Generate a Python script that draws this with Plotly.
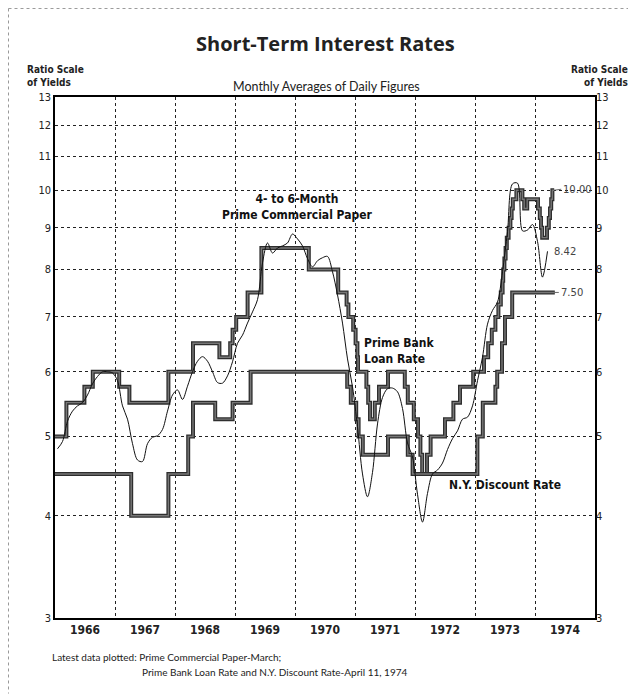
import math
import plotly.graph_objects as go

# ---------------- data ----------------
years = [1966, 1967, 1968, 1969, 1970, 1971, 1972, 1973, 1974]
y_ticks = [3, 4, 5, 6, 7, 8, 9, 10, 11, 12, 13]

# 4- to 6-month prime commercial paper, monthly averages Jan 1966 .. Mar 1974
cp_1966 = [4.83, 4.93, 5.22, 5.37, 5.45, 5.50, 5.62, 5.80, 5.92, 6.00, 6.00, 5.98]
cp_1967 = [5.85, 5.45, 5.25, 4.90, 4.68, 4.66, 4.90, 4.99, 5.01, 5.10, 5.37, 5.62]
cp_1968 = [5.70, 5.55, 5.76, 6.00, 6.18, 6.26, 6.18, 6.00, 5.82, 5.81, 5.93, 6.17]
cp_1969 = [6.50, 6.65, 6.88, 7.10, 7.35, 8.15, 8.62, 8.38, 8.50, 8.55, 8.62, 8.84]
cp_1970 = [8.72, 8.55, 8.25, 8.06, 8.20, 8.27, 8.30, 7.95, 7.45, 6.88, 6.22, 5.75]
cp_1971 = [5.14, 4.50, 4.22, 4.52, 5.18, 5.58, 5.72, 5.73, 5.67, 5.41, 4.91, 4.72]
cp_1972 = [4.25, 3.93, 4.26, 4.50, 4.55, 4.64, 4.82, 4.97, 5.08, 5.25, 5.28, 5.45]
cp_1973 = [5.85, 6.25, 6.86, 7.13, 7.30, 7.95, 8.90, 10.18, 10.20, 8.92, 8.94, 9.08]
cp_1974 = [8.66, 7.83, 8.42]

# Prime bank loan rate: date of change (decimal year) and new rate
prime_dates = [1966.00, 1966.19, 1966.49, 1966.63, 1967.07, 1967.24, 1967.89, 1968.30,
               1968.74, 1968.92, 1968.96, 1969.02, 1969.21, 1969.44, 1970.23, 1970.72,
               1970.86, 1970.89, 1970.97, 1971.01, 1971.04, 1971.05, 1971.19, 1971.22,
               1971.25, 1971.33, 1971.40, 1971.55, 1971.83, 1971.88, 1971.98, 1972.05,
               1972.09, 1972.12, 1972.20, 1972.26, 1972.50, 1972.64, 1972.75, 1972.97,
               1973.15, 1973.22, 1973.28, 1973.34, 1973.39, 1973.43, 1973.46, 1973.47,
               1973.49, 1973.51, 1973.53, 1973.56, 1973.59, 1973.61, 1973.63, 1973.69,
               1973.79, 1973.82, 1973.87, 1974.05, 1974.08, 1974.10, 1974.12, 1974.20,
               1974.23, 1974.25, 1974.27, 1974.29]
prime_rates = [5.0, 5.5, 5.75, 6.0, 5.75, 5.5, 6.0, 6.5,
               6.25, 6.5, 6.75, 7.0, 7.5, 8.5, 8.0, 7.5,
               7.25, 7.0, 6.75, 6.5, 6.25, 6.0, 5.75, 5.5,
               5.25, 5.5, 5.75, 6.0, 5.75, 5.5, 5.25, 5.0,
               4.75, 4.5, 4.75, 5.0, 5.25, 5.5, 5.75, 6.0,
               6.25, 6.5, 6.75, 7.0, 7.25, 7.5, 7.75, 8.0,
               8.25, 8.5, 8.75, 9.0, 9.25, 9.5, 9.75, 10.0,
               9.75, 9.5, 9.75, 9.5, 9.25, 9.0, 8.75, 9.0,
               9.25, 9.5, 9.75, 10.0]
prime_end = 1974.32

# N.Y. (FRB of New York) discount rate
disc_dates = [1966.00, 1967.27, 1967.89, 1968.22, 1968.30, 1968.67, 1968.96, 1969.26,
              1970.87, 1970.93, 1971.02, 1971.06, 1971.13, 1971.55, 1971.88, 1971.96,
              1973.04, 1973.13, 1973.34, 1973.37, 1973.45, 1973.50, 1973.62]
disc_rates = [4.5, 4.0, 4.5, 5.0, 5.5, 5.25, 5.5, 6.0,
              5.75, 5.5, 5.25, 5.0, 4.75, 5.0, 4.75, 4.5,
              5.0, 5.5, 5.75, 6.0, 6.5, 7.0, 7.5]
disc_end = 1974.33

# ---------------- build ----------------
cp_values = cp_1966 + cp_1967 + cp_1968 + cp_1969 + cp_1970 + cp_1971 + cp_1972 + cp_1973 + cp_1974
cp_x = [years[0] + (i + 0.5) / 12 for i in range(len(cp_values))]

def step_xy(dates, rates, end):
    return list(dates) + [end], list(rates) + [rates[-1]]

px, py = step_xy(prime_dates, prime_rates, prime_end)
dx, dy = step_xy(disc_dates, disc_rates, disc_end)

fig = go.Figure()

for xs, ys in [(px, py), (dx, dy)]:
    fig.add_trace(go.Scatter(x=xs, y=ys, mode="lines", line_shape="hv",
                             line=dict(color="#2e2e2e", width=4),
                             hoverinfo="skip", showlegend=False))
    fig.add_trace(go.Scatter(x=xs, y=ys, mode="lines", line_shape="hv",
                             line=dict(color="#777777", width=1.4),
                             hoverinfo="skip", showlegend=False))

fig.add_trace(go.Scatter(x=cp_x, y=cp_values, mode="lines", line_shape="spline",
                         line=dict(color="#111", width=1, smoothing=0.9),
                         hoverinfo="skip", showlegend=False))
# invisible trace to carry the right-hand axis
fig.add_trace(go.Scatter(x=cp_x, y=cp_values, yaxis="y2", mode="lines",
                         line=dict(width=0), opacity=0, hoverinfo="skip", showlegend=False))

lo, hi = math.log10(y_ticks[0]), math.log10(y_ticks[-1])
tick_font = dict(family="DejaVu Sans Condensed, DejaVu Sans, sans-serif", size=11, color="#222")

# the page body adds an 8px margin, so the figure is 628x692
fig.update_layout(
    width=628, height=692,
    margin=dict(l=47, r=41, t=89, b=82),
    paper_bgcolor="white", plot_bgcolor="white",
    xaxis=dict(range=[years[0], years[-1] + 1],
               tickvals=[y + 0.5 for y in years], ticktext=[str(y) for y in years],
               ticks="", showgrid=False, zeroline=False,
               showline=True, mirror=True, linecolor="black", linewidth=1.5,
               tickfont=dict(family="DejaVu Sans Condensed, DejaVu Sans, sans-serif",
                             size=12, color="#222", weight="bold"),
               minor=dict(tickmode="array", tickvals=years[1:], showgrid=True,
                          gridcolor="#222", griddash="dot", gridwidth=1, ticks="")),
    yaxis=dict(type="log", range=[lo, hi], tickvals=y_ticks,
               ticktext=[str(v) for v in y_ticks], ticks="",
               showgrid=True, gridcolor="#222", griddash="dot", gridwidth=1,
               zeroline=False, showline=True, mirror=True, linecolor="black", linewidth=1.5,
               tickfont=tick_font),
    yaxis2=dict(type="log", range=[lo, hi], overlaying="y", side="right",
                tickvals=y_ticks, ticktext=[str(v) for v in y_ticks], ticks="",
                showgrid=False, zeroline=False, showline=False, tickfont=tick_font),
)

label_font = dict(family="DejaVu Sans Condensed, DejaVu Sans, sans-serif", size=12, color="#111")
num_font = dict(family="DejaVu Sans, sans-serif", size=10, color="#444")
small_font = dict(family="Lato, sans-serif", size=10, color="#222")
ratio_font = dict(family="DejaVu Sans Condensed, DejaVu Sans, sans-serif", size=10, color="#222")

ann = [
    dict(x=0.5, y=1.1036, xref="paper", yref="paper", xanchor="center", yanchor="middle",
         text="<b>Short-Term Interest Rates</b>",
         font=dict(family="Open Sans, sans-serif", size=20, color="#222"), showarrow=False),
    dict(x=-0.0556, y=1.0403, xref="paper", yref="paper", xanchor="left", yanchor="middle",
         align="left", text="<b>Ratio Scale<br>of Yields</b>", font=ratio_font, showarrow=False),
    dict(x=1.0648, y=1.0403, xref="paper", yref="paper", xanchor="right", yanchor="middle",
         align="right", text="<b>Ratio Scale<br>of Yields</b>", font=ratio_font, showarrow=False),
    dict(x=0.5037, y=1.0192, xref="paper", yref="paper", xanchor="center", yanchor="middle",
         text="Monthly Averages of Daily Figures",
         font=dict(family="Lato, sans-serif", size=12.5, color="#222"), showarrow=False),
    dict(x=-0.0093, y=-0.0749, xref="paper", yref="paper", xanchor="left", yanchor="middle",
         text="Latest data plotted: Prime Commercial Paper-March;", font=small_font, showarrow=False),
    dict(x=0.1574, y=-0.1036, xref="paper", yref="paper", xanchor="left", yanchor="middle",
         text="Prime Bank Loan Rate and N.Y. Discount Rate-April 11, 1974", font=small_font,
         showarrow=False),
    dict(x=1970.04, y=0.98, text="<b>4- to 6-Month<br>Prime Commercial Paper</b>",
         font=label_font, showarrow=False),
    dict(x=1971.12, y=0.8034, xanchor="left", align="left", text="<b>Prime Bank<br>Loan Rate</b>",
         font=label_font, showarrow=False),
    dict(x=1972.53, y=0.6396, xanchor="left", text="<b>N.Y. Discount Rate</b>",
         font=label_font, showarrow=False),
    dict(x=prime_end, y=math.log10(prime_rates[-1]), text="10.00", font=num_font,
         showarrow=True, arrowhead=0, arrowwidth=0.8, arrowcolor="#444", ax=7, ay=-1,
         xanchor="left"),
    dict(x=1974.28, y=0.9248, xanchor="left", text="8.42", font=num_font, showarrow=False),
    dict(x=disc_end, y=math.log10(disc_rates[-1]), text="7.50", font=num_font,
         showarrow=True, arrowhead=0, arrowwidth=0.8, arrowcolor="#444", ax=4, ay=0,
         xanchor="left"),
]
fig.update_layout(annotations=ann)

# dotted page border (top and left)
fig.add_shape(type="line", xref="paper", yref="paper", x0=-0.0861, x1=1.08, y0=1.1699, y1=1.1699,
              line=dict(color="#999", width=1, dash="dot"))
fig.add_shape(type="line", xref="paper", yref="paper", x0=-0.0861, x1=-0.0861, y0=1.1699, y1=-0.145,
              line=dict(color="#999", width=1, dash="dot"))

fig.write_html("out.html")
